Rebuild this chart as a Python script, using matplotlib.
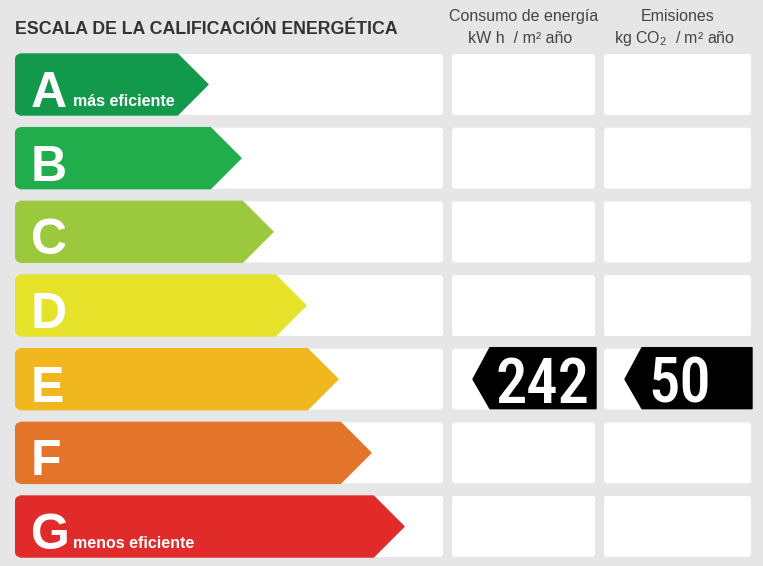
import matplotlib.pyplot as plt
from matplotlib.patches import FancyBboxPatch, Polygon

plt.rcParams['mathtext.fontset'] = 'custom'
plt.rcParams['mathtext.rm'] = 'Liberation Sans'

# energy classes and the length (right tip, px) of each class arrow
classes = ['A', 'B', 'C', 'D', 'E', 'F', 'G']
class_colors = ['#13994b', '#22ad4c', '#9cc83e', '#e6e22a', '#f0b71f', '#e3752b', '#e02b2a']
arrow_ends = [208, 241, 273, 306, 338, 371, 404]
class_notes = ['más eficiente', '', '', '', '', '', 'menos eficiente']

title = 'ESCALA DE LA CALIFICACIÓN ENERGÉTICA'
col_titles = ['Consumo de energía', 'Emisiones']
col_units = ['kW h  / m² año', r'kg CO$_\mathrm{2}$  / m² año']

rating = 'E'
values = [242, 50]

bg = '#e6e6e6'
W, H = 763, 566
row_top0, row_pitch, row_h = 54, 73.67, 61
left = 15
cols = [(452, 595), (604, 751)]

fig = plt.figure(figsize=(W / 100, H / 100), dpi=100)
fig.patch.set_facecolor(bg)
ax = fig.add_axes([0, 0, 1, 1])
ax.set_xlim(0, W)
ax.set_ylim(H, 0)
ax.axis('off')

sans = ['Liberation Sans', 'DejaVu Sans']

ax.text(left, 34, title, fontsize=12.8, fontweight='bold', color='#333333',
        family=sans, va='baseline', ha='left')
for (x0, x1), t, u in zip(cols, col_titles, col_units):
    cx = (x0 + x1) / 2
    ax.text(cx, 21, t, fontsize=11.5, color='#444444', family=sans, ha='center', va='baseline')
    ax.text(cx - 3, 43, u, fontsize=11.5, color='#444444', family=sans, ha='center', va='baseline')

for i, (cl, col, end, note) in enumerate(zip(classes, class_colors, arrow_ends, class_notes)):
    top = row_top0 + i * row_pitch
    bot = top + row_h
    mid = (top + bot) / 2
    # white background boxes
    ax.add_patch(FancyBboxPatch((left, top), 443 - left, row_h,
                                boxstyle='round,pad=0,rounding_size=3', fc='white', ec='none'))
    for x0, x1 in cols:
        ax.add_patch(FancyBboxPatch((x0, top), x1 - x0, row_h,
                                    boxstyle='round,pad=0,rounding_size=3', fc='white', ec='none'))
    # class arrow
    r = 5
    ax.add_patch(FancyBboxPatch((left, top), 20, row_h,
                                boxstyle='round,pad=0,rounding_size=%d' % r, fc=col, ec='none'))
    body_end = end - row_h / 2
    ax.add_patch(Polygon([(left + r, top), (body_end, top), (end, mid), (body_end, bot), (left + r, bot)],
                         closed=True, fc=col, ec=col, lw=1, joinstyle='round'))
    ax.text(31, top + 53, cl, fontsize=36, fontweight='bold', color='white', family=sans,
            ha='left', va='baseline')
    if note:
        ax.text(73, top + 51.5, note, fontsize=11.5, fontweight='bold', color='white', family=sans,
                ha='left', va='baseline')

    if cl == rating:
        for (x0, x1), v in zip(cols, values):
            tip = x0 + 21
            body = tip + 17
            right = x1 + 1
            ax.add_patch(Polygon([(tip, mid), (body, top - 1), (right, top - 1), (right, bot - 1),
                                  (body, bot - 1)],
                                 closed=True, fc='black', ec='black', lw=1, joinstyle='round'))
            ax.text(body + 6, top + 54, str(v), fontsize=45, color='white', fontweight=500,
                    family=['Roboto Condensed', 'Liberation Sans', 'DejaVu Sans'],
                    ha='left', va='baseline')

fig.savefig('out.png', dpi=100, facecolor=bg)
